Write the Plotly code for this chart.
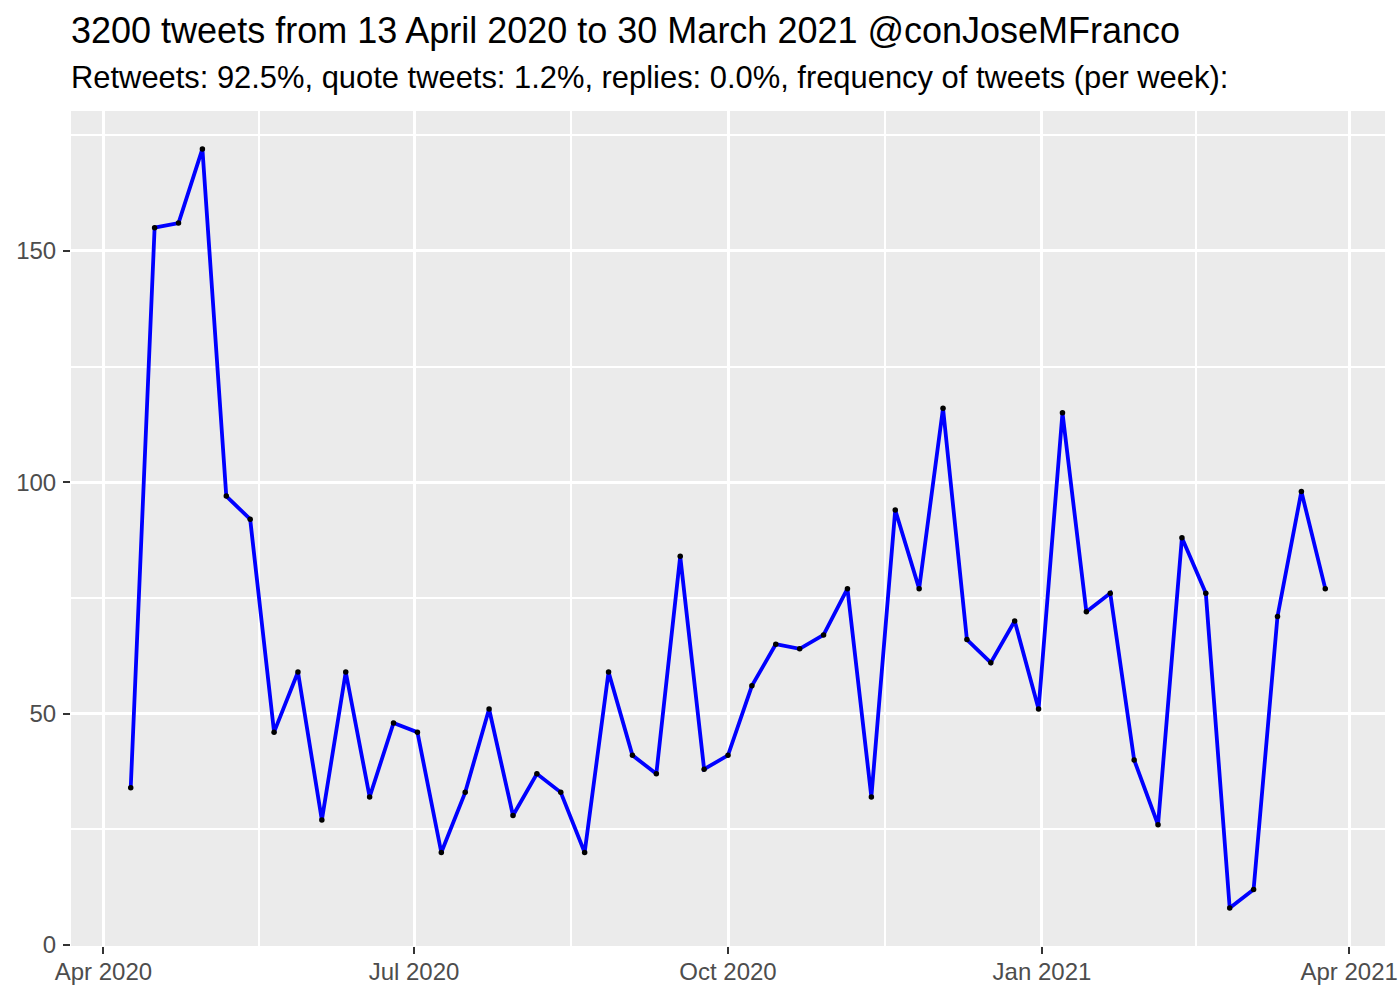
import pandas as pd
import plotly.graph_objects as go

# Weekly tweet counts (weeks starting 2020-04-09)
week_start = "2020-04-09"
weekly_counts = [34, 155, 156, 172, 97, 92, 46, 59, 27, 59, 32, 48, 46, 20, 33, 51,
                 28, 37, 33, 20, 59, 41, 37, 84, 38, 41, 56, 65, 64, 67, 77, 32,
                 94, 77, 116, 66, 61, 70, 51, 115, 72, 76, 40, 26, 88, 76, 8, 12,
                 71, 98, 77]
weeks = pd.date_range(week_start, periods=len(weekly_counts), freq="7D")

x_tick_vals = ["2020-04-01", "2020-07-01", "2020-10-01", "2021-01-01", "2021-04-01"]
x_tick_text = ["Apr 2020", "Jul 2020", "Oct 2020", "Jan 2021", "Apr 2021"]
x_minor_vals = ["2020-05-16 12:00", "2020-08-16", "2020-11-16", "2021-02-15"]
y_tick_vals = [0, 50, 100, 150]
y_minor_vals = [25, 75, 125, 175]

title_text = "3200 tweets from 13 April 2020 to 30 March 2021 @conJoseMFranco"
subtitle_text = ("Retweets: 92.5%, quote tweets: 1.2%, replies: 0.0%, "
                 "frequency of tweets (per week):")

FONT = "Liberation Sans, Arial, Helvetica, sans-serif"

fig = go.Figure()
fig.add_trace(go.Scatter(x=weeks, y=weekly_counts, mode="lines",
                         line=dict(color="#0000FF", width=3.8), hoverinfo="skip",
                         showlegend=False))
fig.add_trace(go.Scatter(x=weeks, y=weekly_counts, mode="markers",
                         marker=dict(color="black", size=5.5), showlegend=False))

W, H = 1400, 1000
ml, mr, mt, mb = 71, 15, 111, 54
ph = H - mt - mb

def ypaper(py):
    return (H - mb - py) / ph

fig.update_layout(
    width=W, height=H,
    margin=dict(l=ml, r=mr, t=mt, b=mb, pad=0, autoexpand=False),
    paper_bgcolor="white", plot_bgcolor="#EBEBEB",
    font=dict(family=FONT, color="#4D4D4D", size=24),
    showlegend=False,
    annotations=[
        dict(text=title_text, xref="paper", yref="paper", x=-0.0015, y=ypaper(30),
             xanchor="left", yanchor="middle", showarrow=False,
             font=dict(size=36, color="black", family=FONT)),
        dict(text=subtitle_text, xref="paper", yref="paper", x=-0.0015, y=ypaper(77),
             xanchor="left", yanchor="middle", showarrow=False,
             font=dict(size=30.9, color="black", family=FONT)),
    ],
)
fig.update_xaxes(
    type="date", range=["2020-03-22 12:00", "2021-04-11 12:00"], automargin=False,
    tickmode="array", tickvals=x_tick_vals, ticktext=x_tick_text,
    showgrid=True, gridcolor="white", gridwidth=2.8, zeroline=False,
    ticks="outside", ticklen=7, tickwidth=2.2, tickcolor="#333333",
    tickfont=dict(size=24, color="#4D4D4D"), showline=False,
    ticklabelstandoff=-3,
    minor=dict(tickmode="array", tickvals=x_minor_vals, showgrid=True,
               gridcolor="white", gridwidth=1.5, ticks=""),
)
fig.update_yaxes(
    range=[-0.2, 180.2], tickmode="array", tickvals=y_tick_vals, automargin=False,
    showgrid=True, gridcolor="white", gridwidth=2.8, zeroline=False,
    ticks="outside", ticklen=7, tickwidth=2.2, tickcolor="#333333",
    tickfont=dict(size=24, color="#4D4D4D"), showline=False,
    ticklabelstandoff=2,
    minor=dict(tickmode="array", tickvals=y_minor_vals, showgrid=True,
               gridcolor="white", gridwidth=1.5, ticks=""),
)

fig.write_html("out.html", config={"displayModeBar": False},
               post_script="document.body.style.margin='0px';"
                           "document.body.style.overflow='hidden';")
